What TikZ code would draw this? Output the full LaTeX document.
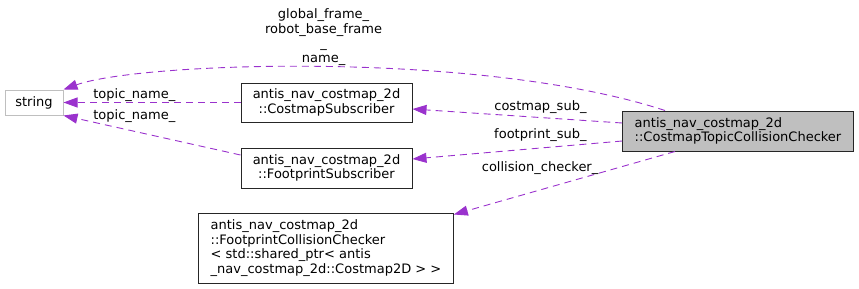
\documentclass[tikz,border=0pt]{standalone}
\usepackage{fontspec}
\setmainfont{DejaVu Sans}
\usetikzlibrary{arrows.meta,positioning}

\definecolor{edgepurple}{HTML}{9A32CD}
\definecolor{boxgray}{HTML}{BFBFBF}

\begin{document}
\begin{tikzpicture}[x=1pt, y=-1pt,
    font=\fontsize{13}{14.5}\selectfont,
    cls/.style={draw=black!85, line width=1pt, inner sep=0pt, align=center},
    lbl/.style={inner sep=0pt, align=center},
    member/.style={draw=edgepurple, line width=0.9pt, dash pattern=on 7pt off 5pt,
                   -{Triangle[length=14pt, width=10pt, fill=edgepurple]}}]
    \useasboundingbox (0,0) rectangle (859,289);

    % classes
    \node[cls, draw=boxgray, minimum width=58pt, minimum height=25pt] (str) at (34,102.5) {string};
    \node[cls, minimum width=171pt, minimum height=39pt] (csub) at (326.5,102.5)
        {antis\_nav\_costmap\_2d\\::CostmapSubscriber};
    \node[cls, minimum width=171pt, minimum height=40pt] (fsub) at (326.5,168)
        {antis\_nav\_costmap\_2d\\::FootprintSubscriber};
    \node[cls, align=left, inner xsep=12pt, minimum height=70pt] (fcc) at (326,248)
        {antis\_nav\_costmap\_2d\\::FootprintCollisionChecker\\< std::shared\_ptr< antis\\\_nav\_costmap\_2d::Costmap2D > >};
    \node[cls, fill=boxgray, align=left, inner xsep=12pt, minimum height=40pt] (ctcc) at (738,131)
        {antis\_nav\_costmap\_2d\\::CostmapTopicCollisionChecker};

    % members
    \draw[member] ([xshift=-73pt]ctcc.north) .. controls (480,50) and (140,62) .. (str.north east)
        node[lbl, pos=.5, yshift=30pt] {global\_frame\_\\robot\_base\_frame\\\_\\name\_};
    \draw[member] (csub.west) -- (str.east)
        node[lbl, pos=.6, yshift=7.5pt] {topic\_name\_};
    \draw[member] ([yshift=13pt]fsub.west) -- (str.south east)
        node[lbl, pos=.6, yshift=15.4pt] {topic\_name\_};
    \draw[member] ([yshift=8pt]ctcc.west) -- ([yshift=-6.5pt]csub.east)
        node[lbl, pos=.39, yshift=10.5pt] {costmap\_sub\_};
    \draw[member] ([yshift=-10pt]ctcc.west) -- ([yshift=9pt]fsub.east)
        node[lbl, pos=.39, yshift=13pt] {footprint\_sub\_};
    \draw[member] ([xshift=-63pt]ctcc.south) -- ([yshift=-2pt]fcc.north east)
        node[lbl, pos=.61, yshift=21.7pt] {collision\_checker\_};
\end{tikzpicture}
\end{document}
